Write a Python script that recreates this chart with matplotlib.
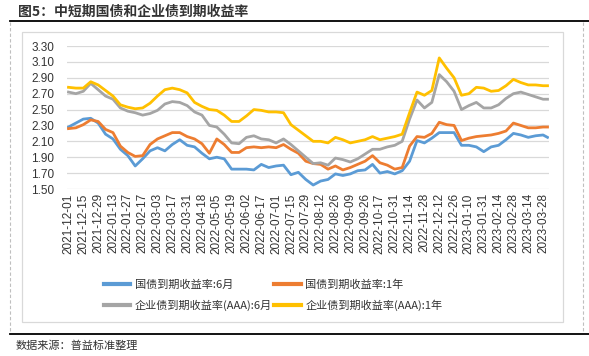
import matplotlib
matplotlib.use("Agg")
import matplotlib.pyplot as plt
from matplotlib.lines import Line2D
from matplotlib.patches import Rectangle

plt.rcParams['font.family'] = ['Liberation Sans', 'Noto Sans CJK SC', 'DejaVu Sans']

# ---------------- data ----------------
tick_labels = ["2021-12-01", "2021-12-15", "2021-12-29", "2022-01-13", "2022-01-27",
               "2022-02-17", "2022-03-03", "2022-03-17", "2022-03-31", "2022-04-18",
               "2022-05-05", "2022-05-19", "2022-06-02", "2022-06-17", "2022-07-01",
               "2022-07-15", "2022-07-29", "2022-08-12", "2022-08-26", "2022-09-09",
               "2022-09-26", "2022-10-17", "2022-10-31", "2022-11-14", "2022-11-28",
               "2022-12-12", "2022-12-26", "2023-01-10", "2023-01-31", "2023-02-14",
               "2023-02-28", "2023-03-14", "2023-03-28"]

# trading-day index of each sampled point (every 5 trading days, plus last day)
day_index = list(range(0, 321, 5)) + [323]

gov_6m = [2.28, 2.33, 2.38, 2.39, 2.33, 2.19, 2.13, 2.00, 1.92, 1.79, 1.88, 1.98, 2.02, 1.98, 2.06, 2.12, 2.05,
          2.03, 1.95, 1.88, 1.90, 1.88, 1.75, 1.75, 1.75, 1.74, 1.81, 1.77, 1.79, 1.80, 1.68, 1.71, 1.62,
          1.55, 1.60, 1.62, 1.69, 1.67, 1.69, 1.73, 1.74, 1.81, 1.70, 1.72, 1.69, 1.73, 1.85, 2.11, 2.08,
          2.14, 2.21, 2.21, 2.21, 2.05, 2.05, 2.03, 1.97, 2.03, 2.05, 2.12, 2.20, 2.18, 2.15, 2.17, 2.18,
          2.15]
gov_1y = [2.26, 2.27, 2.31, 2.37, 2.35, 2.25, 2.21, 2.04, 1.96, 1.91, 1.92, 2.06, 2.13, 2.17, 2.21, 2.21, 2.16,
          2.13, 2.07, 1.95, 2.13, 2.06, 1.96, 1.96, 2.02, 2.03, 2.02, 2.03, 2.02, 2.06, 2.00, 1.95, 1.85,
          1.82, 1.81, 1.75, 1.79, 1.74, 1.77, 1.81, 1.85, 1.92, 1.83, 1.80, 1.75, 1.77, 2.04, 2.16, 2.15,
          2.20, 2.34, 2.31, 2.30, 2.11, 2.14, 2.16, 2.17, 2.18, 2.20, 2.23, 2.33, 2.30, 2.27, 2.27, 2.28,
          2.28]
corp_6m = [2.72, 2.70, 2.73, 2.83, 2.75, 2.67, 2.63, 2.52, 2.48, 2.46, 2.43, 2.45, 2.49, 2.57, 2.60, 2.59, 2.55,
           2.47, 2.43, 2.30, 2.28, 2.19, 2.08, 2.07, 2.15, 2.17, 2.13, 2.12, 2.08, 2.13, 2.06, 1.98, 1.90,
           1.82, 1.83, 1.80, 1.89, 1.87, 1.84, 1.88, 1.94, 2.00, 2.00, 2.03, 2.05, 2.10, 2.38, 2.62, 2.52,
           2.59, 2.94, 2.85, 2.73, 2.50, 2.55, 2.59, 2.52, 2.52, 2.56, 2.64, 2.70, 2.72, 2.69, 2.66, 2.63,
           2.63]
corp_1y = [2.78, 2.77, 2.77, 2.85, 2.81, 2.74, 2.67, 2.56, 2.53, 2.51, 2.52, 2.58, 2.67, 2.75, 2.77, 2.75, 2.71,
           2.59, 2.54, 2.50, 2.49, 2.43, 2.35, 2.35, 2.42, 2.50, 2.49, 2.47, 2.47, 2.46, 2.31, 2.24, 2.17,
           2.10, 2.10, 2.08, 2.15, 2.12, 2.08, 2.10, 2.12, 2.16, 2.12, 2.14, 2.16, 2.19, 2.46, 2.72, 2.68,
           2.74, 3.15, 3.02, 2.90, 2.68, 2.70, 2.78, 2.77, 2.73, 2.74, 2.80, 2.88, 2.84, 2.81, 2.81, 2.80,
           2.80]

series_names = ["国债到期收益率:6月", "国债到期收益率:1年",
                "企业债到期收益率(AAA):6月", "企业债到期收益率(AAA):1年"]
y_ticks = [1.50, 1.70, 1.90, 2.10, 2.30, 2.50, 2.70, 2.90, 3.10, 3.30]

colors = ["#5B9BD5", "#ED7D31", "#A5A5A5", "#FFC000"]

# ---------------- figure ----------------
W, H = 589, 356
fig = plt.figure(figsize=(W / 100, H / 100), dpi=100)
fig.patch.set_facecolor("white")

def fx(px):
    return px / W

def fy(py):
    return 1 - py / H

cjk = ['Noto Sans CJK SC', 'DejaVu Sans']

# title
fig.text(fx(18), fy(12), "图5：中短期国债和企业债到期收益率", family=cjk, fontsize=10,
         fontweight='bold', color="#333333", va='center', ha='left')
# top black rule
fig.add_artist(Line2D([fx(10), fx(589)], [fy(21), fy(21)], color="black", lw=1.3,
                      transform=fig.transFigure))
# dashed outer side borders
for px in (10, 583):
    fig.add_artist(Line2D([fx(px), fx(px)], [fy(22), fy(333)], color="#BFBFBF", lw=0.8,
                          ls=(0, (3, 2)), transform=fig.transFigure))
# bottom black rule
fig.add_artist(Line2D([fx(10), fx(589)], [fy(334), fy(334)], color="black", lw=1.3,
                      transform=fig.transFigure))
# inner chart box
fig.add_artist(Rectangle((fx(22), fy(322)), fx(563) - fx(22), fy(32) - fy(322),
                         fill=False, edgecolor="#D9D9D9", lw=0.9, transform=fig.transFigure))
# source
fig.text(fx(16), fy(346), "数据来源：普益标准整理", family=cjk, fontsize=8,
         color="#333333", va='center', ha='left')

# plot area
ax = fig.add_axes([fx(67), fy(189), fx(549) - fx(67), fy(46) - fy(189)])
ax.set_facecolor("none")
data = [gov_6m, gov_1y, corp_6m, corp_1y]
handles = []
for vals, c, name in zip(data, colors, series_names):
    h, = ax.plot(day_index, vals, color=c, lw=2.0, label=name, solid_joinstyle='round')
    handles.append(h)

ax.set_ylim(1.50, 3.30)
ax.set_yticks(y_ticks)
ax.set_yticklabels([f"{v:.2f}" for v in y_ticks], fontsize=8.5, color="#333333")
ax.set_xlim(-1, 324)
ax.set_xticks(list(range(0, 321, 10)))
ax.set_xticklabels(tick_labels, rotation=90, fontsize=8.5, color="#333333")
ax.tick_params(axis='both', length=0)
ax.tick_params(axis='y', pad=9)
ax.tick_params(axis='x', pad=3)
ax.grid(axis='y', color="#D9D9D9", lw=0.9)
ax.set_axisbelow(True)
for s in ax.spines.values():
    s.set_visible(False)

order = [0, 2, 1, 3]
leg = fig.legend([handles[i] for i in order], [series_names[i] for i in order],
                 ncol=2, loc='upper left', bbox_to_anchor=(fx(98), fy(274)),
                 frameon=False, prop={'family': cjk, 'size': 8},
                 handlelength=2.4, handletextpad=0.4, columnspacing=0.2,
                 labelspacing=0.85, borderpad=0.0)
for lh in leg.get_lines():
    lh.set_linewidth(3)
for t in leg.get_texts():
    t.set_color("#333333")

fig.savefig("out.png", dpi=100, facecolor="white")
